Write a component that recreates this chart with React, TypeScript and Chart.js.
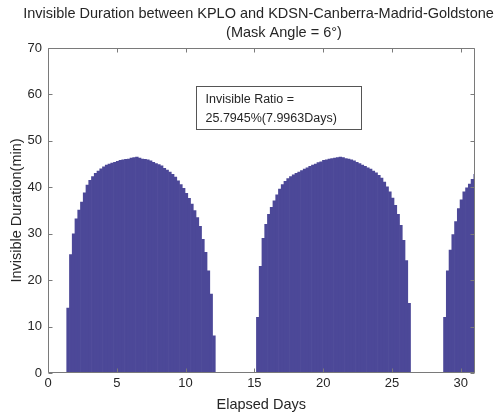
import { useEffect, useRef } from "react";
import { Chart, registerables } from "chart.js";

Chart.register(...registerables);

// ---- text ----
const titleLines = [
  "Invisible Duration between KPLO and KDSN-Canberra-Madrid-Goldstone",
  "(Mask Angle = 6°)",
];
const xAxisLabel = "Elapsed Days";
const yAxisLabel = "Invisible Duration(min)";
const ratioLines = ["Invisible Ratio =", "25.7945%(7.9963Days)"];

// ---- axes ----
const xMin = 0;
const xMax = 31;
const yMin = 0;
const yMax = 70;
const xTickValues = [0, 5, 10, 15, 20, 25, 30];
const yTickValues = [0, 10, 20, 30, 40, 50, 60, 70];

// ---- data (elapsed days sampled every 0.2 day, invisible minutes) ----
const sampleStep = 0.2;

const pass1Start = 1.46;
const pass1Minutes = [
  14, 25.5, 30, 33.2, 35.1, 36.8, 38.8, 40.5, 41.5, 42.3, 43.0, 43.5, 44.0, 44.4,
  44.8, 45.0, 45.2, 45.4, 45.6, 45.8, 45.9, 46.0, 46.1, 46.3, 46.4, 46.5, 46.3,
  46.1, 46.0, 45.9, 45.7, 45.4, 45.1, 44.9, 44.6, 44.1, 43.7, 43.3, 42.8, 42.2,
  41.4, 40.6, 39.8, 38.7, 37.6, 36.4, 35.0, 33.5, 31.6, 28.8, 26.0, 22.0, 17.0, 8,
];

const pass2Start = 15.25;
const pass2Minutes = [
  12, 23, 29, 32, 34.2, 35.7, 37.1, 38.4, 39.6, 40.6, 41.3, 41.9, 42.3, 42.7,
  43.0, 43.3, 43.6, 43.9, 44.2, 44.5, 44.8, 45.0, 45.3, 45.5, 45.8, 45.9, 46.1,
  46.2, 46.3, 46.4, 46.5, 46.4, 46.2, 46.1, 45.9, 45.7, 45.4, 45.1, 44.8, 44.5,
  44.2, 43.9, 43.5, 43.1, 42.6, 42.0, 41.1, 40.1, 39.0, 37.7, 36.1, 34.2, 31.8,
  28.6, 24.2, 15,
];

const pass3Start = 28.85;
const pass3Minutes = [12, 22, 26.5, 29.8, 32.6, 35.4, 37.3, 39.0, 39.9, 40.7, 41.7, 42.8];

// ---- styles ----
const barColor = "rgb(76, 72, 152)";
const axisColor = "#7a7a7a";
const textColor = "#262626";
const fontFamily = "'Liberation Sans', Arial, Helvetica, sans-serif";

function buildPoints(start: number, values: number[]) {
  return values.map((v, i) => ({ x: Math.round((start + i * sampleStep) * 1000) / 1000, y: v }));
}

const decorPlugin = {
  id: "decor",
  afterDatasetsDraw(chart: any) {
    const { ctx, chartArea, scales } = chart;
    const { left, right, top, bottom } = chartArea;
    const xs = scales.x;
    const ys = scales.y;
    ctx.save();
    ctx.strokeStyle = axisColor;
    ctx.lineWidth = 1;
    const L = Math.round(left) + 0.5;
    const R = Math.round(right) - 0.5;
    const T = Math.round(top) + 0.5;
    const B = Math.round(bottom) - 0.5;
    ctx.beginPath();
    ctx.rect(L, T, R - L, B - T);
    ctx.stroke();
    const tl = 4;
    ctx.beginPath();
    for (const v of xTickValues) {
      const px = Math.round(xs.getPixelForValue(v)) + 0.5;
      ctx.moveTo(px, B);
      ctx.lineTo(px, B - tl);
      ctx.moveTo(px, T);
      ctx.lineTo(px, T + tl);
    }
    for (const v of yTickValues) {
      const py = Math.round(ys.getPixelForValue(v)) + 0.5;
      ctx.moveTo(L, py);
      ctx.lineTo(L + tl, py);
      ctx.moveTo(R, py);
      ctx.lineTo(R - tl, py);
    }
    ctx.stroke();

    // title
    ctx.fillStyle = textColor;
    ctx.font = `14.5px ${fontFamily}`;
    ctx.textAlign = "center";
    ctx.textBaseline = "middle";
    ctx.fillText(titleLines[0], 258.5, 13.5);
    ctx.fillText(titleLines[1], 284, 32.5);

    // ratio box
    ctx.fillStyle = "#ffffff";
    ctx.fillRect(196.5, 86.5, 165, 43);
    ctx.strokeStyle = "#555555";
    ctx.strokeRect(196.5, 86.5, 165, 43);
    ctx.fillStyle = textColor;
    ctx.font = `12.5px ${fontFamily}`;
    ctx.textAlign = "left";
    ctx.fillText(ratioLines[0], 205.5, 100);
    ctx.fillText(ratioLines[1], 205.5, 119);
    ctx.restore();
  },
};

export default function App() {
  const canvasRef = useRef<HTMLCanvasElement | null>(null);

  useEffect(() => {
    document.body.style.margin = "0";
    const canvas = canvasRef.current;
    if (!canvas) return;
    const data = [
      ...buildPoints(pass1Start, pass1Minutes),
      ...buildPoints(pass2Start, pass2Minutes),
      ...buildPoints(pass3Start, pass3Minutes),
    ];
    const chart = new Chart(canvas, {
      type: "bar",
      data: {
        datasets: [
          {
            data: data as any,
            backgroundColor: barColor,
            borderWidth: 0,
            barPercentage: 1,
            categoryPercentage: 1,
          },
        ],
      },
      options: {
        responsive: false,
        animation: false,
        devicePixelRatio: 1,
        layout: { padding: { top: 48, right: 26.5, left: 0, bottom: 0 } },
        plugins: {
          legend: { display: false },
          tooltip: { enabled: false },
          title: { display: false },
        },
        scales: {
          x: {
            type: "linear",
            min: xMin,
            max: xMax,
            offset: false,
            afterBuildTicks: (scale: any) => {
              scale.ticks = xTickValues.map((v) => ({ value: v }));
            },
            afterFit: (scale: any) => {
              scale.height = 41;
            },
            grid: { display: false, drawTicks: false },
            border: { display: false },
            ticks: {
              color: textColor,
              padding: 3,
              maxRotation: 0,
              font: { family: fontFamily, size: 13 },
            },
            title: {
              display: true,
              text: xAxisLabel,
              color: textColor,
              font: { family: fontFamily, size: 14.5, lineHeight: 1.2 },
              padding: { top: 0, bottom: 0 },
            },
          },
          y: {
            type: "linear",
            min: yMin,
            max: yMax,
            afterBuildTicks: (scale: any) => {
              scale.ticks = yTickValues.map((v) => ({ value: v }));
            },
            afterFit: (scale: any) => {
              scale.width = 48;
            },
            grid: { display: false, drawTicks: false },
            border: { display: false },
            ticks: {
              color: textColor,
              padding: 6,
              font: { family: fontFamily, size: 13 },
            },
            title: {
              display: true,
              text: yAxisLabel,
              color: textColor,
              font: { family: fontFamily, size: 14.5, lineHeight: 1.2 },
              padding: { top: 8, bottom: 0 },
            },
          },
        },
      } as any,
      plugins: [decorPlugin],
    });
    return () => chart.destroy();
  }, []);

  return (
    <div style={{ width: 501, height: 414 }}>
      <canvas ref={canvasRef} width={501} height={414} style={{ display: "block", width: 501, height: 414 }} />
    </div>
  );
}
